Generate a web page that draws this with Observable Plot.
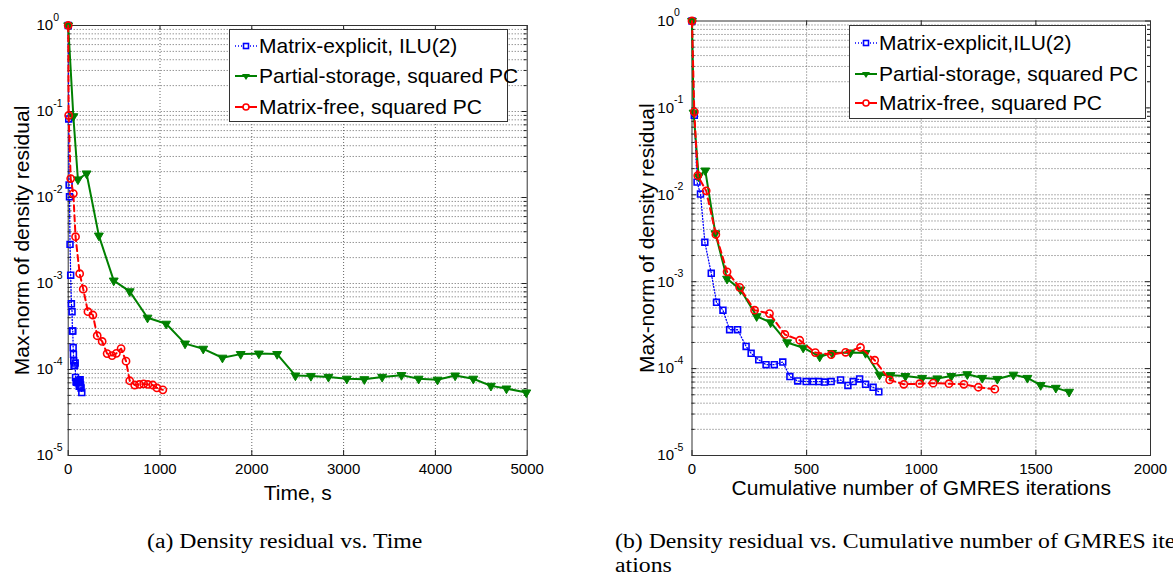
<!DOCTYPE html>
<html>
<head>
<meta charset="utf-8">
<script src="https://cdn.jsdelivr.net/npm/d3@7"></script>
<script src="https://cdn.jsdelivr.net/npm/@observablehq/plot@0.6"></script>
<style>
html,body{margin:0;padding:0;background:#fff;overflow:hidden;}
#wrap{position:relative;width:1173px;height:577px;overflow:hidden;font-family:"Liberation Sans",Arial,sans-serif;}
.panel{position:absolute;top:0;}
.legend{position:absolute;background:#fff;border:1px solid #333;box-sizing:border-box;font-size:21px;color:#000;}
.legend .row{position:absolute;height:30px;display:flex;align-items:center;white-space:nowrap;}
.legend svg{display:block;}
#captions{position:absolute;left:0;top:0;}
</style>
</head>
<body>
<div id="wrap">
  <div id="left" class="panel" style="left:0px"></div>
  <div id="right" class="panel" style="left:600px"></div>
  <svg id="captions" width="1173" height="577"></svg>
</div>
<script>
// ---------------- data ----------------
const seriesNames = ["Matrix-explicit, ILU(2)", "Partial-storage, squared PC", "Matrix-free, squared PC"];
const seriesNamesRight = ["Matrix-explicit,ILU(2)", "Partial-storage, squared PC", "Matrix-free, squared PC"];

// Matrix-explicit, ILU(2)
const explicitResidual = [1, 0.082, 0.014, 0.0102, 0.00285, 0.00125, 0.00058, 0.00047, 0.00028, 0.00028,
  0.00018, 0.00015, 0.000126, 0.000111, 0.000111, 0.000119, 8.1e-5, 7.2e-5, 7.1e-5, 7.1e-5,
  7.1e-5, 7.0e-5, 7.1e-5, 7.4e-5, 6.4e-5, 7.1e-5, 7.6e-5, 6.6e-5, 6.1e-5, 5.4e-5];
const explicitTime = [0, 6, 10, 14, 20, 27, 35, 42, 46, 50,
  54, 57, 60, 64, 70, 76, 80, 86, 92, 98,
  104, 108, 112, 116, 120, 125, 130, 135, 140, 148];
const explicitIters = [0, 10, 22, 37, 56, 84, 107, 135, 164, 199,
  236, 258, 291, 323, 359, 396, 427, 461, 498, 529,
  553, 578, 607, 648, 680, 703, 731, 757, 790, 815];

// Partial-storage, squared PC
const partialResidual = [1, 0.088, 0.0162, 0.019, 0.0036, 0.00108, 0.00081, 0.0004, 0.00034, 0.0002,
  0.000174, 0.000137, 0.000151, 0.000153, 0.000151, 8.5e-5, 8.4e-5, 8.2e-5, 7.8e-5, 7.7e-5,
  8.2e-5, 8.6e-5, 7.8e-5, 7.6e-5, 8.5e-5, 7.8e-5, 6.45e-5, 6.0e-5, 5.4e-5];
const partialTime = [0, 56, 106, 200, 334, 496, 670, 864, 1067, 1273,
  1471, 1680, 1879, 2077, 2276, 2475, 2644, 2835, 3035, 3226,
  3420, 3630, 3817, 4023, 4215, 4413, 4605, 4774, 4990];
const partialIters = [0, 7, 29, 58, 102, 153, 212, 282, 343, 415,
  485, 557, 611, 691, 757, 818, 866, 931, 1004, 1070,
  1131, 1201, 1266, 1332, 1402, 1463, 1521, 1587, 1645];

// Matrix-free, squared PC
const freeResidual = [1, 0.09, 0.0166, 0.0111, 0.0035, 0.0013, 0.00086, 0.00047, 0.00043, 0.000247,
  0.000212, 0.000153, 0.000145, 0.000154, 0.000175, 0.000125, 7.4e-5, 6.6e-5, 6.7e-5, 6.8e-5,
  6.7e-5, 6.6e-5, 6.1e-5, 5.8e-5];
const freeTime = [0, 5, 27, 56, 80, 125, 164, 215, 269, 316,
  370, 424, 478, 525, 576, 630, 670, 724, 775, 822,
  868, 922, 966, 1031];
const freeIters = [0, 10, 25, 62, 104, 153, 208, 273, 338, 405,
  470, 538, 607, 670, 735, 797, 862, 924, 993, 1052,
  1121, 1186, 1249, 1321];

const timeTicks = [0, 1000, 2000, 3000, 4000, 5000];
const iterTicks = [0, 500, 1000, 1500, 2000];
const decadeExponents = [0, -1, -2, -3, -4, -5];
const yLabel = "Max-norm of density residual";
const xLabelLeft = "Time, s";
const xLabelRight = "Cumulative number of GMRES iterations";
const captionA = "(a) Density residual vs. Time";
const captionB1 = "(b) Density residual vs. Cumulative number of GMRES iter-";
const captionB2 = "ations";

const colors = {blue: "#0000ff", green: "#008000", red: "#ff0000"};

// grid helpers
const yMajor = decadeExponents.map(e => 10 ** e);
const yMinor = d3.range(-5, 0).flatMap(e => d3.range(2, 10).map(k => k * 10 ** e));

function rows(res, xs) { return res.map((r, i) => ({x: xs[i], r})); }

function panel(o) {
  const iw = o.width - o.ml - o.mr;
  const ih = o.height - o.mt - o.mb;
  const blue = rows(explicitResidual, o.useTime ? explicitTime : explicitIters);
  const green = rows(partialResidual, o.useTime ? partialTime : partialIters);
  const red = rows(freeResidual, o.useTime ? freeTime : freeIters);
  const grid = {stroke: "#666", strokeDasharray: "1,2", strokeWidth: 1};
  return Plot.plot({
    width: o.width, height: o.height,
    marginLeft: o.ml, marginRight: o.mr, marginTop: o.mt, marginBottom: o.mb,
    style: {fontFamily: "'Liberation Sans', Arial, sans-serif", color: "#000", background: "transparent", overflow: "visible"},
    x: {domain: o.xDomain},
    y: {type: "log", domain: [1e-5, 1]},
    marks: [
      Plot.ruleY(yMinor, grid),
      Plot.ruleY(yMajor.slice(1, -1), grid),
      Plot.ruleX(o.xTicks.slice(1, -1), grid),
      // inward ticks
      Plot.tickY(yMinor, {stroke: "#222", insetRight: iw - 3}),
      Plot.tickY(yMinor, {stroke: "#222", insetLeft: iw - 3}),
      Plot.tickY(yMajor, {stroke: "#222", insetRight: iw - 5}),
      Plot.tickY(yMajor, {stroke: "#222", insetLeft: iw - 5}),
      Plot.tickX(o.xTicks, {stroke: "#222", insetTop: ih - 5}),
      Plot.tickX(o.xTicks, {stroke: "#222", insetBottom: ih - 5}),
      Plot.frame({stroke: "#333"}),
      Plot.axisX({ticks: o.xTicks, tickFormat: d => String(d), tickSize: 0, tickPadding: 8, fontSize: 15, label: null}),
      Plot.axisY({ticks: yMajor, tickFormat: () => "10", tickSize: 0, tickPadding: o.yPad, fontSize: 15, label: null}),
      Plot.text(decadeExponents, {y: e => 10 ** e, text: e => String(e), frameAnchor: "left", textAnchor: "start", dx: -o.yPad, dy: -8, fontSize: 10.5}),
      // series
      Plot.line(blue, {x: "x", y: "r", stroke: colors.blue, strokeWidth: 1.3, strokeDasharray: "1,2"}),
      Plot.dot(blue, {x: "x", y: "r", symbol: "square", r: 3.3, stroke: colors.blue, fill: "none", strokeWidth: 1.6}),
      Plot.line(green, {x: "x", y: "r", stroke: colors.green, strokeWidth: 2}),
      Plot.dot(green, {x: "x", y: "r", symbol: "triangle", rotate: 180, r: 3.3, stroke: colors.green, fill: colors.green, strokeWidth: 1}),
      Plot.line(red, {x: "x", y: "r", stroke: colors.red, strokeWidth: 2, strokeDasharray: "6,4"}),
      Plot.dot(red, {x: "x", y: "r", symbol: "circle", r: 3.6, stroke: colors.red, fill: "none", strokeWidth: 1.6}),
      // axis labels
      Plot.text([o.xLabel], {frameAnchor: "bottom", textAnchor: "middle", lineAnchor: "middle", dy: o.xLabelDy, fontSize: 21}),
      Plot.text([yLabel], {frameAnchor: "left", textAnchor: "middle", lineAnchor: "middle", rotate: -90, dx: o.yLabelDx, fontSize: 21})
    ]
  });
}

document.getElementById("left").append(panel({
  width: 560, height: 520, ml: 67.7, mr: 33.3, mt: 25, mb: 65,
  useTime: true, xDomain: [0, 5000], xTicks: timeTicks, yPad: 15,
  xLabel: xLabelLeft, xLabelDy: 38, yLabelDx: -45.7
}));
document.getElementById("right").append(panel({
  width: 573, height: 520, ml: 91.5, mr: 23, mt: 20.5, mb: 65,
  useTime: false, xDomain: [0, 2000], xTicks: iterTicks, yPad: 18,
  xLabel: xLabelRight, xLabelDy: 33, yLabelDx: -45
}));

// ---------------- legends ----------------
function swatch(kind) {
  const s = d3.create("svg").attr("width", 24).attr("height", 16);
  if (kind === 0) {
    s.append("line").attr("x1", 1).attr("x2", 23).attr("y1", 8).attr("y2", 8)
      .attr("stroke", colors.blue).attr("stroke-width", 1.5).attr("stroke-dasharray", "1,2");
    s.append("rect").attr("x", 9.5).attr("y", 5.5).attr("width", 5).attr("height", 5)
      .attr("fill", "#fff").attr("stroke", colors.blue).attr("stroke-width", 1.6);
  } else if (kind === 1) {
    s.append("line").attr("x1", 1).attr("x2", 23).attr("y1", 8).attr("y2", 8)
      .attr("stroke", colors.green).attr("stroke-width", 2);
    s.append("path").attr("d", "M8,6 L16,6 L12,12 Z").attr("fill", colors.green);
  } else {
    s.append("line").attr("x1", 1).attr("x2", 23).attr("y1", 8).attr("y2", 8)
      .attr("stroke", colors.red).attr("stroke-width", 2);
    s.append("circle").attr("cx", 12).attr("cy", 8).attr("r", 3)
      .attr("fill", "#fff").attr("stroke", colors.red).attr("stroke-width", 1.6);
  }
  return s.node();
}
function legend(names, box, centers) {
  const div = document.createElement("div");
  div.className = "legend";
  Object.assign(div.style, {left: box.x + "px", top: box.y + "px", width: box.w + "px", height: box.h + "px"});
  names.forEach((n, i) => {
    const row = document.createElement("div");
    row.className = "row";
    row.style.left = "4px";
    row.style.top = (centers[i] - 15) + "px";
    row.append(swatch(i));
    const sp = document.createElement("span");
    sp.textContent = n;
    sp.style.marginLeft = "1px";
    row.append(sp);
    div.append(row);
  });
  document.getElementById("wrap").append(div);
}
legend(seriesNames, {x: 229, y: 29, w: 279, h: 93}, [16, 46, 76.5]);
legend(seriesNamesRight, {x: 849, y: 25, w: 297, h: 94}, [16.5, 47.5, 77]);

// ---------------- captions ----------------
const cap = d3.select("#captions");
function capText(x, y, t) {
  cap.append("g").attr("transform", `translate(${x},${y}) scale(1.16,1)`)
    .append("text").attr("font-family", "'Liberation Serif', 'Times New Roman', serif")
    .attr("font-size", 20.5).attr("fill", "#000").text(t);
}
capText(147, 548, captionA);
capText(615, 548, captionB1);
capText(615, 572, captionB2);
</script>
</body>
</html>
